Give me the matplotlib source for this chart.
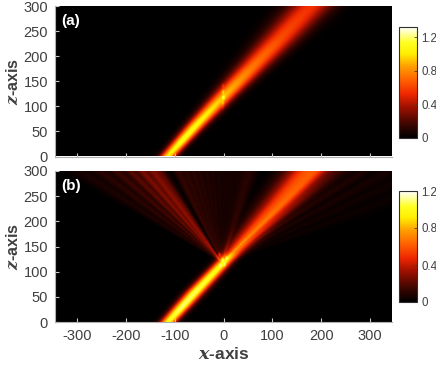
import numpy as np
import matplotlib
matplotlib.use("Agg")
import matplotlib.pyplot as plt
from matplotlib.colors import LinearSegmentedColormap

plt.rcParams['font.family'] = ['Liberation Sans', 'DejaVu Sans']
plt.rcParams['mathtext.fontset'] = 'dejavuserif'
plt.rcParams['axes.unicode_minus'] = False

GRAY = '#404040'
x_ticks = [-300, -200, -100, 0, 100, 200, 300]
z_ticks = [0, 50, 100, 150, 200, 250, 300]
cb_ticks = [0, 0.4, 0.8, 1.2]
cb_labels = ['0', '0.4', '0.8', '1.2']

# beam
z_a = [0, 30, 60, 120, 180, 240, 300]
centre_a = [-113, -85, -57, 2, 62, 122, 180]
width_a = [16, 17, 19, 24, 31, 39, 45]
peak_a = [1.02, 1.12, 1.08, 0.92, 0.74, 0.62, 0.55]

# beam, below and above the scattering point
z_b = [0, 30, 60, 118, 140, 180, 240, 300]
centre_b = [-113, -85, -57, 0, 22, 60, 117, 172]
width_b = [16, 17, 18, 17, 20, 28, 37, 44]
peak_b = [1.02, 1.10, 1.08, 0.98, 0.62, 0.56, 0.54, 0.54]

# fan of scattered streaks: angle from vertical (deg), brightness
fan_deg = [-62, -60, -58, -56, -54, -52, -50, -48, -46, -44, -42, -40, -38, -36, -34, -32, -30,
           -28, -26, -24, -22, -20, -18, -16, -14, -12, -10, -8, -6, -4, -2, 0, 2, 4, 6,
           8, 10, 12, 14, 16, 18, 20, 24]
fan_amp = [0, .03, .08, .05, .12, .07, .17, .10, .23, .16, .30, .21, .31, .25, .19, .05, .01,
           .09, .14, .09, .12, .08, .11, .08, .10, .06, .09, .06, .08, .05, .07, .05, .06, .05, .06,
           .05, .06, .06, .08, .10, .10, .07, 0]
# bright core inside the main beam and faint streaks on its far side
side_deg = [38, 44, 47, 50, 53, 56, 58, 60, 62, 64, 66, 68, 70, 72, 74]
side_amp = [0, .06, .16, .05, .10, .04, .09, .03, .07, .03, .05, .02, .04, .015, 0]
# radial brightening towards the scattering point
rad_knots = [0, 30, 80, 200, 420]
rad_gain = [1.5, 1.25, 1.05, 0.95, 0.8]
# sparkles at the scattering point: x, z, brightness
speck_a = ([-1, -1, 0, -1, -1], [140, 128, 116, 105, 97], [.15, .25, .35, .20, .10])
speck_b = ([-8, -2, 2, -6, 6], [134, 124, 114, 112, 128], [.25, .30, .25, .15, .20])

x = np.linspace(-345, 345, 691)
z = np.linspace(0, 300, 301)
X, Z = np.meshgrid(x, z)
FOCUS = (-3.0, 118.0)


def beam(zk, ck, wk, pk):
    c = np.interp(Z, zk, ck)
    w = np.interp(Z, zk, wk)
    p = np.interp(Z, zk, pk)
    return p * np.exp(-((X - c) / w) ** 2)


def specks(sx, sz, sa):
    out = np.zeros_like(X)
    for a, b, c in zip(sx, sz, sa):
        out += c * np.exp(-((X - a) / 2.5) ** 2 - ((Z - b) / 4.0) ** 2)
    return out


field_a = beam(z_a, centre_a, width_a, peak_a) + specks(*speck_a)
field_b = beam(z_b, centre_b, width_b, peak_b) + specks(*speck_b)

dx, dz = X - FOCUS[0], Z - FOCUS[1]
ang = np.degrees(np.arctan2(dx, dz))
rad = np.hypot(dx, dz)
above = (dz > 0) * np.clip(rad / 12, 0, 1) * np.interp(rad, rad_knots, rad_gain)
field_b += above * np.interp(ang, fan_deg, fan_amp, left=0, right=0)
field_b += above * np.interp(ang, side_deg, side_amp, left=0, right=0)

cmap = LinearSegmentedColormap.from_list('beam', [
    (0, '#000000'), (0.12, '#3a0500'), (0.28, '#a01000'), (0.40, '#f02800'),
    (0.52, '#ff6000'), (0.65, '#ffa000'), (0.76, '#ffee00'), (0.86, '#ffff20'),
    (1, '#ffffff')])


def px_axes(fig, l, t, r, b):
    W, H = 436, 368
    return fig.add_axes([l / W, 1 - b / H, (r - l) / W, (b - t) / H])


fig = plt.figure(figsize=(4.36, 3.68), dpi=100)
panels = [
    (field_a, 1.32, '(a)', (55, 6, 392, 156.5), (399, 27, 417, 138)),
    (field_b, 1.2, '(b)', (55, 171, 392, 322), (399, 191, 417, 302)),
]
for i, (fld, vmax, tag, box, cbox) in enumerate(panels):
    ax = px_axes(fig, *box)
    im = ax.imshow(fld, origin='lower', extent=[x[0], x[-1], z[0], z[-1]], aspect='auto',
                   cmap=cmap, vmin=0, vmax=vmax, interpolation='bilinear')
    ax.set_xticks(x_ticks)
    ax.set_yticks(z_ticks)
    ax.tick_params(direction='in', length=3, width=0.8, color='#c8c8c8', labelcolor=GRAY,
                   labelsize=10.5, pad=5)
    for s in ('top', 'right'):
        ax.spines[s].set_visible(False)
    for s in ('left', 'bottom'):
        ax.spines[s].set_color('#b0b0b0')
    if i == 0:
        ax.tick_params(labelbottom=False)
    else:
        ax.set_xlabel(r'$\mathbfit{x}$-axis', fontsize=12.5, fontweight='bold', color=GRAY, va='center')
        ax.xaxis.set_label_coords(0.5, -(354 - 322) / 151)
    ax.set_ylabel(r'$\mathbfit{z}$-axis', fontsize=11.5, fontweight='bold', color=GRAY, va='center')
    ax.yaxis.set_label_coords(-0.125, 0.5)
    ax.text(0.018, 0.95, tag, transform=ax.transAxes, color='white', fontsize=11,
            fontweight='bold', va='top', ha='left')
    cax = px_axes(fig, *cbox)
    cb = fig.colorbar(im, cax=cax)
    cb.set_ticks(cb_ticks, labels=cb_labels)
    cb.ax.tick_params(length=2, width=0.6, labelsize=8.3, colors=GRAY, pad=3, direction='in')
    cb.outline.set_linewidth(0.8)
    cb.outline.set_edgecolor('#303030')

fig.savefig('out.png', dpi=100)
